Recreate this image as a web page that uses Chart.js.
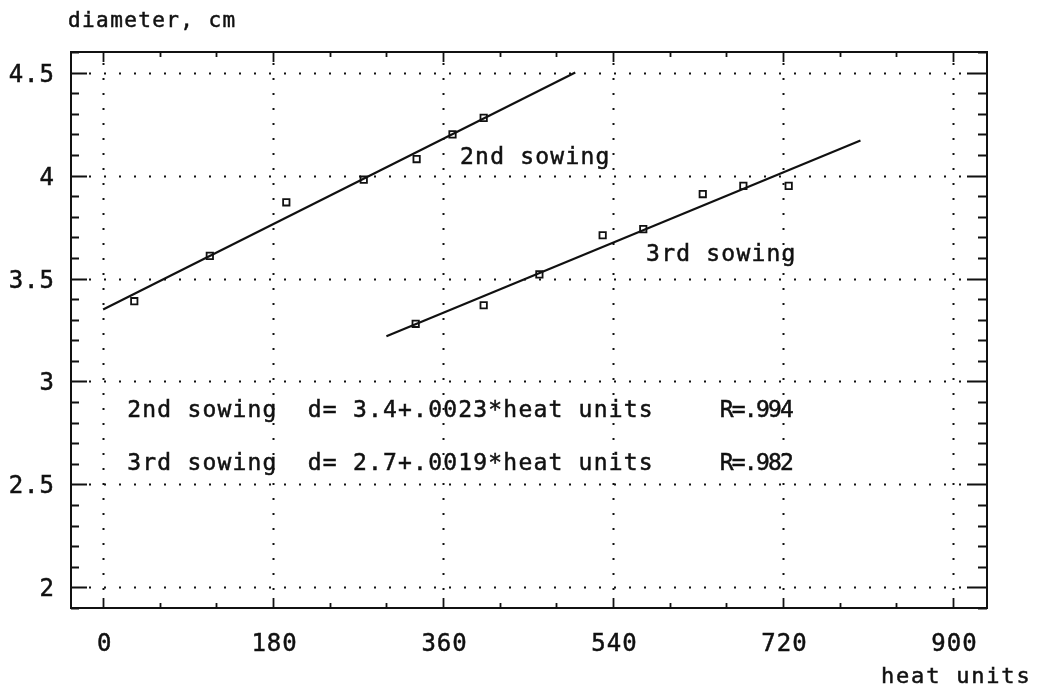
<!DOCTYPE html>
<html>
<head>
<meta charset="utf-8">
<script src="https://cdn.jsdelivr.net/npm/chart.js@4/dist/chart.umd.min.js"></script>
<style>
  html, body { margin: 0; padding: 0; background: #fff; }
  #wrap { width: 1043px; height: 688px; }
</style>
</head>
<body>
<div id="wrap"><canvas id="c" width="1043" height="688"></canvas></div>
<script>
// Stem diameter against accumulated heat units, two sowing dates
const heat2 = [33, 113, 194, 276, 332, 370, 403];
const diam2 = [3.39, 3.61, 3.87, 3.98, 4.08, 4.20, 4.28];
const heat3 = [331, 403, 462, 529, 572, 635, 678, 726];
const diam3 = [3.28, 3.37, 3.52, 3.71, 3.74, 3.91, 3.95, 3.95];

// Fitted regression lines (end points)
const fit2Heat = [0, 500];
const fit2Diam = [3.35, 4.50];
const fit3Heat = [300, 802];
const fit3Diam = [3.22, 4.17];

// Axis ticks
const xTicks = [0, 180, 360, 540, 720, 900];
const xTickLabels = ['0', '180', '360', '540', '720', '900'];
const yTicks = [2, 2.5, 3, 3.5, 4, 4.5];
const yTickLabels = ['2', '2.5', '3', '3.5', '4', '4.5'];
const xMinorStep = 60;
const yMinorStep = 0.1;

// Text drawn inside the plot
const seriesNames = ['2nd sowing', '3rd sowing'];
const equations = ['2nd sowing  d= 3.4+.0023*heat units', '3rd sowing  d= 2.7+.0019*heat units'];
const rValues = ['R=.994', 'R=.982'];

const toXY = (xs, ys) => xs.map((x, i) => ({ x: x, y: ys[i] }));

const FONT = '"DejaVu Sans Mono", monospace';

function txt(ctx, s, x, y, size, spacing, align) {
  ctx.save();
  ctx.font = size + 'px ' + FONT;
  ctx.fillStyle = '#111';
  ctx.strokeStyle = '#111';
  ctx.lineWidth = 0.5;
  ctx.textBaseline = 'alphabetic';
  try { ctx.letterSpacing = spacing + 'px'; } catch (e) {}
  let w = ctx.measureText(s).width;
  let x0 = x;
  if (align === 'center') x0 = x - (w - spacing) / 2;
  else if (align === 'right') x0 = x - (w - spacing);
  ctx.textAlign = 'left';
  ctx.fillText(s, x0, y);
  ctx.strokeText(s, x0, y);
  ctx.restore();
}

const framePlugin = {
  id: 'plotFrame',
  beforeDatasetsDraw(chart) {
    const { ctx, chartArea: a, scales: { x, y } } = chart;
    ctx.save();
    // dotted grid
    ctx.strokeStyle = '#111';
    ctx.lineWidth = 2;
    ctx.setLineDash([2, 13]);
    yTicks.forEach(v => {
      const py = Math.round(y.getPixelForValue(v)) + 0.5;
      ctx.beginPath(); ctx.moveTo(a.left + 18, py); ctx.lineTo(a.right - 20, py); ctx.stroke();
    });
    xTicks.forEach(v => {
      const px = Math.round(x.getPixelForValue(v)) + 0.5;
      ctx.beginPath(); ctx.moveTo(px, a.top + 11); ctx.lineTo(px, a.bottom - 10); ctx.stroke();
    });
    ctx.setLineDash([]);

    // frame
    ctx.lineWidth = 2;
    ctx.strokeRect(a.left, a.top, a.right - a.left, a.bottom - a.top);

    // y ticks, left and right
    ctx.lineWidth = 1.8;
    for (let v = 1.9; v <= 4.6001; v += yMinorStep) {
      const r = Math.round(v * 10) / 10;
      const major = Math.abs(r * 2 - Math.round(r * 2)) < 1e-6;
      const py = Math.round(y.getPixelForValue(r)) + 0.5;
      ctx.beginPath();
      ctx.moveTo(a.left, py); ctx.lineTo(a.left + (major ? 16 : 8), py);
      ctx.moveTo(a.right, py); ctx.lineTo(a.right - (major ? 20 : 9), py);
      ctx.stroke();
    }
    // x ticks, bottom and top
    for (let v = 0; v <= 900; v += xMinorStep) {
      const major = v % 180 === 0;
      const px = Math.round(x.getPixelForValue(v)) + 0.5;
      ctx.beginPath();
      ctx.moveTo(px, a.bottom); ctx.lineTo(px, a.bottom - (major ? 10 : 5));
      ctx.moveTo(px, a.top); ctx.lineTo(px, a.top + (major ? 10 : 5));
      ctx.stroke();
    }
    ctx.restore();

    // tick labels
    yTicks.forEach((v, i) => {
      const py = y.getPixelForValue(v);
      txt(ctx, yTickLabels[i], 54, py + 9, 24, 1.0, 'right');
    });
    xTicks.forEach((v, i) => {
      const px = x.getPixelForValue(v);
      txt(ctx, xTickLabels[i], px + 1, 651, 24, 1.0, 'center');
    });
    // axis titles
    txt(ctx, 'diameter, cm', 68, 27, 21, 1.4, 'left');
    txt(ctx, 'heat units', 881, 683, 22, 1.8, 'left');
  },
  afterDatasetsDraw(chart) {
    const { ctx, scales: { x, y } } = chart;
    txt(ctx, seriesNames[0], x.getPixelForValue(378), y.getPixelForValue(4.058), 23, 1.2, 'left');
    txt(ctx, seriesNames[1], x.getPixelForValue(575), y.getPixelForValue(3.584), 23, 1.2, 'left');
    txt(ctx, equations[0], x.getPixelForValue(25.5), y.getPixelForValue(2.829), 23, 1.2, 'left');
    txt(ctx, equations[1], x.getPixelForValue(25.5), y.getPixelForValue(2.572), 23, 1.2, 'left');
    txt(ctx, rValues[0], x.getPixelForValue(653), y.getPixelForValue(2.829), 23, -1.8, 'left');
    txt(ctx, rValues[1], x.getPixelForValue(653), y.getPixelForValue(2.572), 23, -1.8, 'left');
  }
};

const lineStyle = {
  showLine: true, borderColor: '#111', borderWidth: 2.2, pointRadius: 0,
  fill: false, tension: 0
};
const pointStyle = {
  showLine: false, pointStyle: 'rect', pointRadius: 4.5, pointBorderWidth: 1.8,
  pointBorderColor: '#111', pointBackgroundColor: 'rgba(255,255,255,0)'
};

new Chart(document.getElementById('c'), {
  type: 'scatter',
  data: {
    datasets: [
      Object.assign({ label: '2nd sowing fit', data: toXY(fit2Heat, fit2Diam) }, lineStyle),
      Object.assign({ label: '3rd sowing fit', data: toXY(fit3Heat, fit3Diam) }, lineStyle),
      Object.assign({ label: '2nd sowing', data: toXY(heat2, diam2) }, pointStyle),
      Object.assign({ label: '3rd sowing', data: toXY(heat3, diam3) }, pointStyle)
    ]
  },
  options: {
    responsive: false,
    animation: false,
    devicePixelRatio: 1,
    layout: { padding: { left: 71, right: 56, top: 52, bottom: 80 } },
    scales: {
      x: { type: 'linear', min: -34, max: 936, display: false },
      y: { type: 'linear', min: 1.9, max: 4.6, display: false }
    },
    plugins: { legend: { display: false }, tooltip: { enabled: false } }
  },
  plugins: [framePlugin]
});
</script>
</body>
</html>
